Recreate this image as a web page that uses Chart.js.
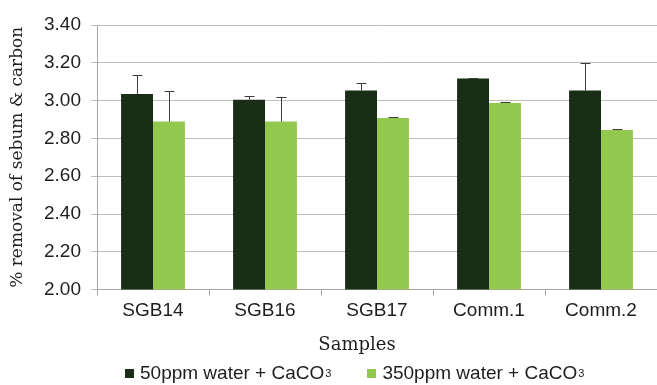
<!DOCTYPE html>
<html>
<head>
<meta charset="utf-8">
<script src="https://cdn.jsdelivr.net/npm/chart.js@4/dist/chart.umd.min.js"></script>
<style>
	body { margin: 0; background: #fff; }
	#wrap { position: relative; width: 657px; height: 385px; }
	#legend { position: absolute; left: 125px; top: 362px; display: flex; font: 19px "Liberation Sans", Arial, sans-serif; color: #1e1e1e; white-space: nowrap; }
	#legend .item { display: flex; align-items: center; }
	#legend .item + .item { margin-left: 36px; }
	#legend .box { width: 9px; height: 9px; margin-right: 6px; }
	#legend sub { font-size: 11px; vertical-align: -9px; line-height: 0; margin-left: 1px; }
</style>
</head>
<body>
<div id="wrap">
	<canvas id="removal"></canvas>
	<div id="legend"></div>
</div>
<script>
const samples = ['SGB14', 'SGB16', 'SGB17', 'Comm.1', 'Comm.2'];
const water50 = [3.035, 3.005, 3.053, 3.117, 3.053];
const water350 = [2.889, 2.889, 2.908, 2.987, 2.844];
const err50 = [0.100, 0.018, 0.042, 0.005, 0.145];
const err350 = [0.160, 0.130, 0.003, 0.005, 0.004];
const seriesNames = ['50ppm water + CaCO', '350ppm water + CaCO'];
const seriesColors = ['#1a2e17', '#92c850'];

// upper error bars with a cap, placed through the y scale
const errorBars = {
	id: 'errorBars',
	afterDatasetsDraw(chart) {
		const ctx = chart.ctx;
		const y = chart.scales.y;
		chart.data.datasets.forEach((ds, i) => {
			chart.getDatasetMeta(i).data.forEach((bar, j) => {
				const x = Math.round(bar.x) + 0.5;
				const top = Math.round(y.getPixelForValue(ds.data[j] + ds.errors[j])) + 0.5;
				ctx.save();
				ctx.strokeStyle = '#3c3c3c';
				ctx.lineWidth = 1;
				ctx.beginPath();
				ctx.moveTo(x, bar.y);
				ctx.lineTo(x, top);
				ctx.moveTo(x - 5, top);
				ctx.lineTo(x + 5, top);
				ctx.stroke();
				ctx.restore();
			});
		});
	}
};

// the x title sits a bit left of the plot centre in the original
const nudgeTitle = {
	id: 'nudgeTitle',
	afterUpdate(chart) {
		const sx = chart.scales.x;
		if (sx._nudged) return;
		const orig = sx.drawTitle;
		sx.drawTitle = function () {
			this.ctx.save();
			this.ctx.translate(-20, 0);
			orig.call(this);
			this.ctx.restore();
		};
		sx._nudged = true;
	}
};

const tickFont = { family: '"Liberation Sans", Arial, sans-serif', size: 19 };

const removalConfig = {
	type: 'bar',
	data: {
		labels: samples,
		datasets: [{
			label: seriesNames[0] + '\u2083',
			data: water50,
			errors: err50,
			backgroundColor: seriesColors[0],
		}, {
			label: seriesNames[1] + '\u2083',
			data: water350,
			errors: err350,
			backgroundColor: seriesColors[1],
		}]
	},
	options: {
		responsive: true,
		maintainAspectRatio: false,
		animation: false,
		layout: {
			padding: { top: 25, right: 0, bottom: 29, left: 0 },
		},
		datasets: {
			bar: {
				barPercentage: 1,
				categoryPercentage: 0.57,
			}
		},
		scales: {
			y: {
				min: 2.0,
				max: 3.4,
				ticks: {
					stepSize: 0.2,
					padding: 10,
					color: '#1e1e1e',
					font: tickFont,
					callback: (v) => v.toFixed(2),
				},
				grid: {
					color: '#bdbdbd',
					tickLength: 6,
				},
				border: { color: '#a6a6a6' },
				title: {
					display: true,
					text: '% removal of sebum & carbon',
					color: '#1e1e1e',
					font: { family: '"DejaVu Serif", serif', size: 17 },
					padding: { top: 7, bottom: 0 },
				},
				afterFit(scale) { scale.width = 97; },
			},
			x: {
				ticks: {
					padding: 4,
					color: '#1e1e1e',
					font: tickFont,
				},
				grid: {
					drawOnChartArea: false,
					color: '#a6a6a6',
					tickLength: 6,
				},
				border: { color: '#a6a6a6' },
				title: {
					display: true,
					text: 'Samples',
					color: '#1e1e1e',
					font: { family: '"DejaVu Serif", serif', size: 18 },
					padding: { top: 8, bottom: 0 },
				},
			}
		},
		plugins: {
			legend: { display: false },
			tooltip: { enabled: false },
		},
	},
	plugins: [errorBars, nudgeTitle],
};

const removalCtx = document.getElementById('removal');
const removalPlot = new Chart(removalCtx, removalConfig);

// legend as page text so the 3 can be a real subscript
const legendEl = document.getElementById('legend');
seriesNames.forEach((name, i) => {
	const item = document.createElement('span');
	item.className = 'item';
	item.innerHTML = '<span class="box" style="background:' + seriesColors[i] + '"></span>' + name + '<sub>3</sub>';
	legendEl.appendChild(item);
});
</script>
</body>
</html>
